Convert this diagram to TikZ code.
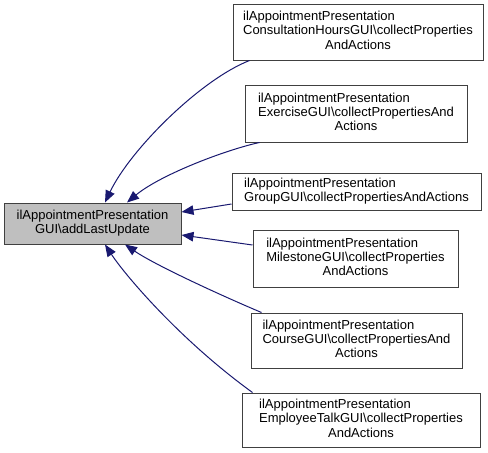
\documentclass[tikz,border=0pt]{standalone}
\usepackage{fontspec}
\setmainfont{Liberation Sans}
\usetikzlibrary{arrows.meta,calc}
\definecolor{edgeblue}{HTML}{191970}
\definecolor{boxgray}{HTML}{BFBFBF}
\definecolor{boxline}{HTML}{404040}
\newcommand{\bs}{\textbackslash}
\begin{document}
\begin{tikzpicture}[x=1pt,y=-1pt,
  box/.style={draw=boxline,line width=1pt,fill=white,inner sep=0pt,font=\fontsize{13}{14.2}\selectfont},
  mainbox/.style={box,fill=boxgray},
  edge/.style={draw=edgeblue,line width=1pt,-{Triangle[length=12pt,width=9.5pt]}}]
\useasboundingbox (0,0) rectangle (488,453);
\node[mainbox,minimum width=177pt,minimum height=41pt] (n0) at (92.5,223.5)
  {\begin{tabular}{@{}c@{}}ilAppointmentPresentation\\GUI\bs addLastUpdate\end{tabular}};
\node[box,minimum width=250pt,minimum height=56pt] (n1) at (358,32)
  {\begin{tabular}{@{}l@{}}ilAppointmentPresentation\\ConsultationHoursGUI\bs collectProperties\\\multicolumn{1}{@{}c@{}}{AndActions}\end{tabular}};
\node[box,minimum width=222pt,minimum height=57pt] (n2) at (356,113.5)
  {\begin{tabular}{@{}l@{}}ilAppointmentPresentation\\ExerciseGUI\bs collectPropertiesAnd\\\multicolumn{1}{@{}c@{}}{Actions}\end{tabular}};
\node[box,minimum width=249pt,minimum height=37pt] (n3) at (356.5,191.5)
  {\begin{tabular}{@{}l@{}}ilAppointmentPresentation\\GroupGUI\bs collectPropertiesAndActions\end{tabular}};
\node[box,minimum width=205pt,minimum height=57pt] (n4) at (355.5,258.5)
  {\begin{tabular}{@{}l@{}}ilAppointmentPresentation\\MilestoneGUI\bs collectProperties\\\multicolumn{1}{@{}c@{}}{AndActions}\end{tabular}};
\node[box,minimum width=211pt,minimum height=55pt] (n5) at (356.5,340.5)
  {\begin{tabular}{@{}l@{}}ilAppointmentPresentation\\CourseGUI\bs collectPropertiesAnd\\\multicolumn{1}{@{}c@{}}{Actions}\end{tabular}};
\node[box,minimum width=238pt,minimum height=54pt] (n6) at (361,420)
  {\begin{tabular}{@{}l@{}}ilAppointmentPresentation\\EmployeeTalkGUI\bs collectProperties\\\multicolumn{1}{@{}c@{}}{AndActions}\end{tabular}};
% edges
\draw[edge] ($(n1.south west)+(17,0)$) .. controls (200,80) and (130,150) .. ($(n0.north)+(12.5,0)$);
\draw[edge] ($(n2.south west)+(15,0)$) .. controls (225,150) and (160,175) .. ($(n0.north)+(34.5,0)$);
\draw[edge] ($(n3.west)+(0,12.5)$) -- ($(n0.east)+(0,-11.5)$);
\draw[edge] ($(n4.west)+(0,-13.5)$) -- ($(n0.east)+(0,11.5)$);
\draw[edge] ($(n5.north west)+(11,0)$) .. controls (220,295) and (155,265) .. ($(n0.south)+(32.5,0)$);
\draw[edge] ($(n6.north west)+(11,0)$) .. controls (180,340) and (125,275) .. ($(n0.south)+(12.5,0)$);
\end{tikzpicture}
\end{document}
